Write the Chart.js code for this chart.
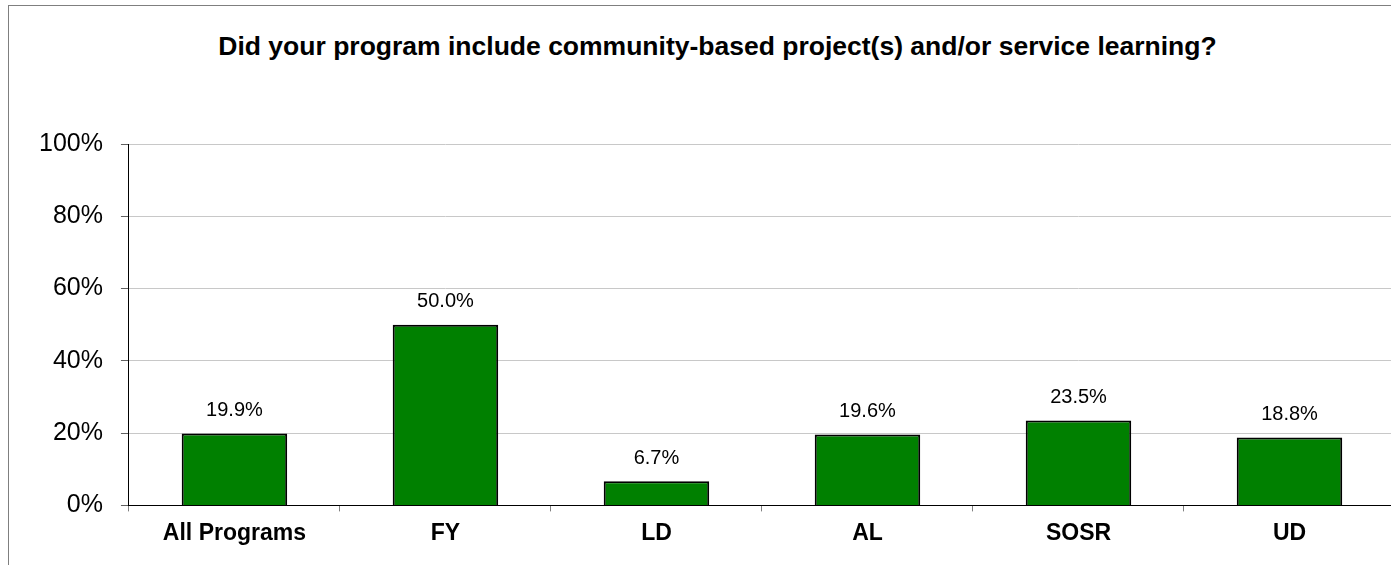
<!DOCTYPE html>
<html>
<head>
<meta charset="utf-8">
<script src="https://cdn.jsdelivr.net/npm/chart.js@4/dist/chart.umd.min.js"></script>
<style>
  html, body { margin: 0; padding: 0; background: #fff; overflow: hidden; width: 1391px; height: 565px; }
  #frame { position: absolute; left: 8px; top: 5px; width: 1500px; height: 700px;
           border-left: 1px solid #7f7f7f; border-top: 1px solid #7f7f7f; }
  #title { position: absolute; left: 0; width: 1435px; top: 31px; text-align: center; line-height: 30px;
           font: bold 26.5px "Liberation Sans", Arial, sans-serif; color: #000; white-space: nowrap; }
  #wrap { position: absolute; left: 9px; top: 6px; width: 1386px; height: 600px; }
</style>
</head>
<body>
<div id="frame"></div>
<div id="title">Did your program include community-based project(s) and/or service learning?</div>
<div id="wrap"><canvas id="canvas"></canvas></div>
<script>
// categories and values
const categories = ['All Programs', 'FY', 'LD', 'AL', 'SOSR', 'UD'];
const percentYes = [19.9, 50.0, 6.7, 19.6, 23.5, 18.8];
const yTicks = [0, 20, 40, 60, 80, 100];

// writes the value above each bar
const valueLabels = {
  id: 'valueLabels',
  afterDatasetsDraw(chart) {
    const ctx = chart.ctx;
    const meta = chart.getDatasetMeta(0);
    ctx.save();
    ctx.font = '20px "Liberation Sans", Arial, sans-serif';
    ctx.fillStyle = '#000';
    ctx.textAlign = 'center';
    ctx.textBaseline = 'middle';
    meta.data.forEach((bar, i) => {
      ctx.fillText(percentYes[i].toFixed(1) + '%', bar.x, bar.y - 23);
    });
    ctx.restore();
  }
};

let ctx = document.getElementById('canvas').getContext('2d');

let chart = new Chart(ctx, {
  type: 'bar',
  data: {
    labels: categories,
    datasets: [{
      data: percentYes,
      backgroundColor: '#008000',
      borderColor: '#000',
      borderWidth: 2,
      barPercentage: 0.5,
      categoryPercentage: 1.0
    }]
  },
  options: {
    responsive: true,
    maintainAspectRatio: false,
    animation: false,
    layout: { padding: { left: 12, top: 138, right: 0, bottom: 51 } },
    plugins: {
      legend: { display: false },
      tooltip: { enabled: false },
      title: { display: false }
    },
    scales: {
      x: {
        grid: { drawOnChartArea: false, offset: true, tickLength: 6, color: '#808080' },
        border: { color: '#000', width: 1 },
        ticks: {
          color: '#000',
          padding: 8,
          font: { family: '"Liberation Sans", Arial, sans-serif', size: 23, weight: 'bold' }
        }
      },
      y: {
        min: 0,
        max: 100,
        afterBuildTicks(axis) { axis.ticks = yTicks.map(v => ({ value: v })); },
        grid: { color: '#c8c8c8', tickLength: 8, tickColor: '#606060' },
        border: { color: '#000', width: 1 },
        ticks: {
          color: '#000',
          padding: 18,
          font: { family: '"Liberation Sans", Arial, sans-serif', size: 25 },
          callback: v => v + '%'
        }
      }
    }
  },
  plugins: [valueLabels]
});
</script>
</body>
</html>
